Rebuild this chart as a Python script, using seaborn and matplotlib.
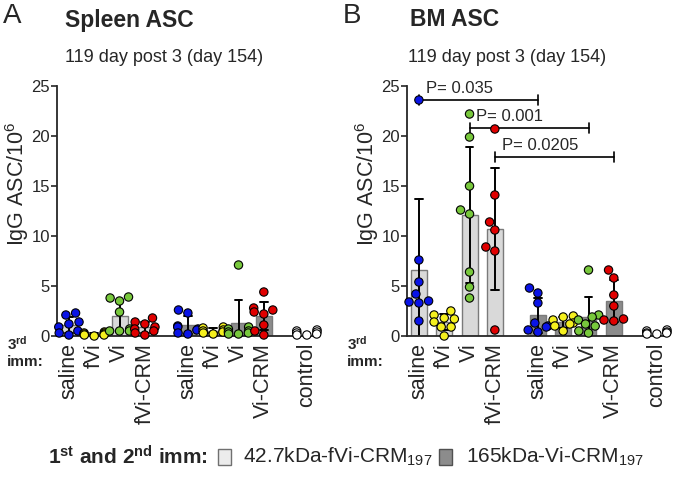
import numpy as np
import pandas as pd
import matplotlib
matplotlib.use('Agg')
import matplotlib.pyplot as plt
from matplotlib.patches import Rectangle
import seaborn as sns

# ============================================================
# data
# ============================================================
imm3 = ['saline', 'fVi', 'Vi', 'fVi-CRM', 'saline', 'fVi', 'Vi', 'Vi-CRM', 'control']
prime = ['fVi', 'fVi', 'fVi', 'fVi', 'Vi', 'Vi', 'Vi', 'Vi', 'none']
agent = ['saline', 'fVi', 'Vi', 'CRM', 'saline', 'fVi', 'Vi', 'CRM', 'control']

spleen = [
    [2.3, 2.1, 1.4, 1.2, 0.9, 0.5, 0.3, 0.1],
    [0.4, 0.3, 0.3, 0.2, 0.2, 0.1, 0.1, 0.0],
    [3.9, 3.8, 3.5, 2.4, 0.7, 0.5, 0.5, 0.5],
    [1.8, 1.4, 1.2, 0.9, 0.7, 0.5, 0.3, 0.1],
    [2.6, 2.3, 1.0, 0.9, 0.7, 0.6, 0.3, 0.2],
    [0.9, 0.8, 0.6, 0.5, 0.4, 0.3, 0.2],
    [7.1, 0.9, 0.7, 0.5, 0.4, 0.3, 0.2, 0.2],
    [4.4, 2.8, 2.6, 2.4, 2.2, 1.1, 0.5, 0.1],
    [0.6, 0.5, 0.4, 0.3, 0.2, 0.1, 0.1],
]

bm = [
    [23.6, 7.6, 5.4, 4.2, 3.5, 3.4, 3.3, 1.5],
    [2.5, 2.1, 1.8, 1.7, 1.4, 0.9, 0.9, 0.0],
    [22.2, 19.9, 15.0, 12.6, 12.2, 6.4, 4.9, 3.8],
    [20.7, 14.1, 11.4, 10.6, 8.9, 8.5, 0.6],
    [4.8, 4.3, 3.3, 1.3, 1.0, 0.9, 0.6, 0.4],
    [2.0, 1.9, 1.6, 1.3, 1.2, 1.0, 0.5],
    [6.6, 2.1, 1.9, 1.6, 1.2, 1.0, 0.5, 0.3],
    [6.6, 5.8, 4.1, 3.0, 1.7, 1.6, 1.5],
    [0.6, 0.5, 0.4, 0.3, 0.3, 0.2, 0.2],
]

# (group i, group j, bracket height, label) for BM panel
bm_tests = [(0, 4, 23.6, 'P= 0.035'),
            (2, 6, 20.8, 'P= 0.001'),
            (3, 7, 17.9, 'P= 0.0205')]

# ============================================================
# style
# ============================================================
x_pos = [0, 1, 2, 3, 4.7, 5.7, 6.7, 7.7, 9.4]
bar_colors = {'fVi': '#d9d9d9', 'Vi': '#8c8c8c'}
dot_colors = {'saline': '#0a14e6', 'fVi': '#f5f01e', 'Vi': '#78c83c',
              'CRM': '#e00000', 'control': '#ffffff'}

sns.set_style('ticks')
plt.rcParams['font.family'] = ['Liberation Sans', 'DejaVu Sans']
plt.rcParams['mathtext.fontset'] = 'custom'
plt.rcParams['mathtext.rm'] = 'Liberation Sans'
plt.rcParams['mathtext.it'] = 'Liberation Sans:italic'
plt.rcParams['mathtext.bf'] = 'Liberation Sans:bold'

W, H = 677, 480
fig = plt.figure(figsize=(W / 100, H / 100), dpi=100)
axA = fig.add_axes([57 / W, 144 / H, 261 / W, 250 / H])
axB = fig.add_axes([407 / W, 144 / H, 261 / W, 250 / H])


def make_df(values):
    rows = []
    for i, vals in enumerate(values):
        for v in vals:
            rows.append({'x': x_pos[i], 'prime': prime[i], 'agent': agent[i], 'val': v})
    return pd.DataFrame(rows)


def draw_panel(ax, values):
    df = make_df(values)
    sns.barplot(data=df[df.prime != 'none'], x='x', y='val', hue='prime',
                palette=bar_colors, native_scale=True, dodge=False,
                errorbar='sd', capsize=0.3, width=0.63,
                err_kws={'color': 'black', 'linewidth': 1.4},
                edgecolor='#7a7a7a', linewidth=1, legend=False, ax=ax)
    sns.swarmplot(data=df, x='x', y='val', hue='agent', palette=dot_colors,
                  native_scale=True, size=6, edgecolor='black',
                  linewidth=0.8, legend=False, warn_thresh=1, clip_on=False,
                  zorder=3, ax=ax)
    ax.set_xlim(-0.47, 9.84)
    ax.set_ylim(0, 25)
    ax.set_yticks([0, 5, 10, 15, 20, 25])
    ax.set_xticks(x_pos)
    ax.set_xticklabels(imm3, rotation=90, fontsize=15.5)
    ax.tick_params(axis='x', length=0, pad=5)
    ax.tick_params(axis='y', labelsize=12, length=4, width=1.2, pad=1)
    ax.spines[['top', 'right']].set_visible(False)
    ax.spines[['left', 'bottom']].set_linewidth(1.3)
    ax.set_xlabel('')
    ax.set_ylabel('IgG ASC/10$^6$', fontsize=15.5)
    ax.yaxis.set_label_coords(-0.1, 0.61)


draw_panel(axA, spleen)
draw_panel(axB, bm)

# significance brackets
for i, j, y, label in bm_tests:
    x1, x2 = x_pos[i], x_pos[j]
    axB.plot([x1, x2], [y, y], color='black', lw=1.2, zorder=1.5)
    for xx in (x1, x2):
        axB.plot([xx, xx], [y - 0.5, y + 0.5], color='black', lw=1.2, zorder=1.5)
    axB.text(x1 + 0.27, y + 1.15, label, fontsize=12, ha='left', va='center')


def ftext(x, y, s, **kw):
    fig.text(x / W, 1 - y / H, s, va='center', ha='left', **kw)


# panel headers
ftext(3, 16, 'A', fontsize=20)
ftext(65, 20, 'Spleen ASC', fontsize=16.5, fontweight='bold')
ftext(65, 57, '119 day post 3 (day 154)', fontsize=13)
ftext(343, 16, 'B', fontsize=20)
ftext(410, 20, 'BM ASC', fontsize=16.5, fontweight='bold')
ftext(408, 57, '119 day post 3 (day 154)', fontsize=13)

for x0 in (7, 347):
    ftext(x0, 344, r'$\mathbf{3^{rd}}$', fontsize=11)
    ftext(x0, 362, 'imm:', fontsize=11, fontweight='bold')

# legend row
ftext(48, 457, r'$\mathbf{1^{st}}$ and $\mathbf{2^{nd}}$ imm:', fontsize=15, fontweight='bold')
fig.add_artist(Rectangle((218 / W, 1 - 465 / H), 13 / W, 16 / H, transform=fig.transFigure,
                         facecolor='#ececec', edgecolor='#707070', lw=1))
ftext(243, 457, '42.7kDa-fVi-CRM$_{197}$', fontsize=15)
fig.add_artist(Rectangle((439 / W, 1 - 465 / H), 13 / W, 16 / H, transform=fig.transFigure,
                         facecolor='#8c8c8c', edgecolor='#505050', lw=1))
ftext(466, 457, '165kDa-Vi-CRM$_{197}$', fontsize=15)

plt.savefig('out.png', dpi=100)
